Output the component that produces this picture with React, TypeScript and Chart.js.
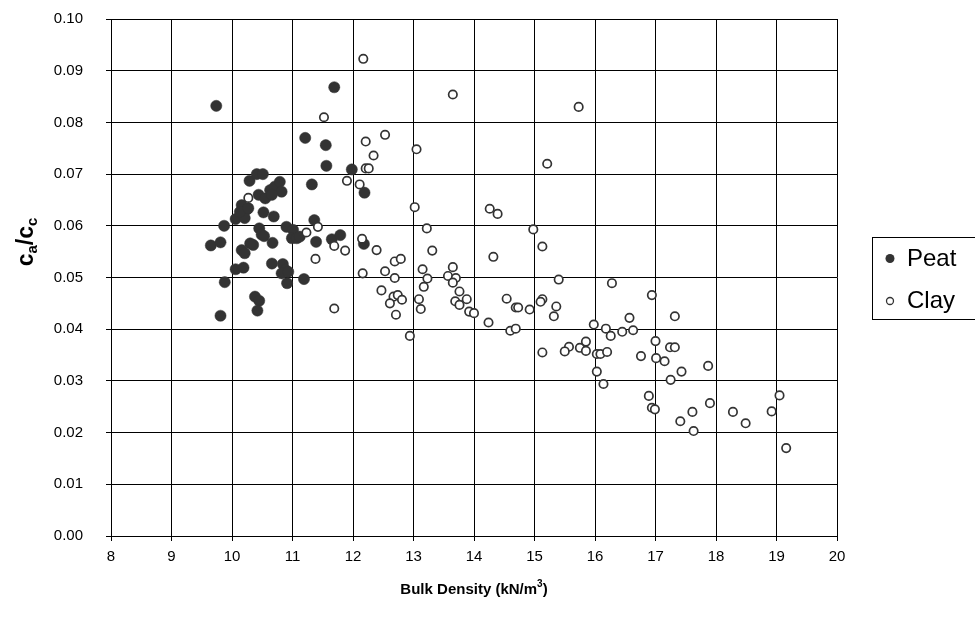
import React, { useEffect, useRef } from "react";
import { Chart, registerables } from "chart.js";

Chart.register(...registerables);

const peatX = [9.74, 11.69, 11.21, 11.55, 11.56, 11.98, 11.32, 12.19, 11.36, 11.39, 11.65, 11.79, 12.18, 11.19, 9.65, 9.81, 9.87, 9.88, 9.81, 10.06, 10.06, 10.19, 10.16, 10.21, 10.35, 10.16, 10.24, 10.21, 10.13, 10.29, 10.41, 10.51, 10.44, 10.55, 10.52, 10.69, 10.63, 10.71, 10.79, 10.82, 10.66, 10.45, 10.49, 10.53, 10.67, 10.66, 10.84, 10.88, 10.82, 10.93, 10.91, 10.38, 10.45, 10.42, 10.90, 11.01, 10.99, 11.07, 11.12, 10.30, 10.27];
const peatY = [0.0832, 0.0868, 0.0770, 0.0756, 0.0716, 0.0709, 0.0680, 0.0664, 0.0611, 0.0569, 0.0574, 0.0582, 0.0565, 0.0497, 0.0562, 0.0568, 0.0600, 0.0491, 0.0426, 0.0613, 0.0516, 0.0519, 0.0553, 0.0547, 0.0563, 0.0640, 0.0631, 0.0615, 0.0627, 0.0687, 0.0700, 0.0700, 0.0660, 0.0653, 0.0626, 0.0618, 0.0669, 0.0676, 0.0685, 0.0666, 0.0660, 0.0595, 0.0583, 0.0580, 0.0567, 0.0527, 0.0526, 0.0515, 0.0508, 0.0511, 0.0489, 0.0463, 0.0455, 0.0436, 0.0598, 0.0592, 0.0576, 0.0576, 0.0579, 0.0566, 0.0634];

const clayX = [10.27, 11.23, 11.42, 11.38, 11.69, 11.87, 11.69, 11.90, 12.17, 11.52, 13.65, 15.73, 12.21, 12.53, 12.34, 13.05, 12.21, 12.26, 15.21, 12.11, 13.02, 14.26, 14.39, 13.22, 14.98, 12.15, 12.39, 13.31, 15.13, 14.32, 12.69, 12.79, 12.16, 12.53, 12.69, 13.15, 13.23, 13.65, 13.57, 13.70, 13.65, 15.40, 13.17, 12.47, 12.67, 12.74, 12.81, 12.61, 12.71, 13.09, 13.12, 13.76, 13.69, 13.76, 13.88, 13.92, 14.00, 14.24, 14.54, 14.69, 14.73, 14.60, 14.69, 14.92, 15.13, 15.10, 15.36, 15.32, 12.94, 15.98, 16.28, 16.94, 17.32, 16.18, 16.26, 16.45, 16.57, 16.63, 15.57, 15.50, 15.75, 15.85, 15.85, 16.03, 16.09, 16.20, 16.03, 16.14, 16.76, 17.00, 17.01, 17.15, 17.24, 17.32, 17.25, 17.43, 17.87, 16.89, 16.94, 16.99, 17.41, 17.61, 17.63, 17.90, 18.28, 18.49, 18.92, 19.05, 19.16, 15.13];
const clayY = [0.0654, 0.0587, 0.0598, 0.0536, 0.0561, 0.0552, 0.0440, 0.0687, 0.0923, 0.0810, 0.0854, 0.0830, 0.0763, 0.0776, 0.0736, 0.0748, 0.0711, 0.0711, 0.0720, 0.0680, 0.0636, 0.0633, 0.0623, 0.0595, 0.0593, 0.0575, 0.0553, 0.0552, 0.0560, 0.0540, 0.0531, 0.0536, 0.0508, 0.0512, 0.0499, 0.0516, 0.0498, 0.0520, 0.0503, 0.0499, 0.0490, 0.0496, 0.0482, 0.0475, 0.0463, 0.0466, 0.0457, 0.0450, 0.0428, 0.0458, 0.0439, 0.0473, 0.0454, 0.0447, 0.0458, 0.0434, 0.0431, 0.0413, 0.0459, 0.0442, 0.0442, 0.0397, 0.0401, 0.0438, 0.0458, 0.0453, 0.0444, 0.0425, 0.0387, 0.0409, 0.0489, 0.0466, 0.0425, 0.0401, 0.0387, 0.0395, 0.0422, 0.0398, 0.0366, 0.0357, 0.0364, 0.0358, 0.0376, 0.0352, 0.0352, 0.0356, 0.0318, 0.0294, 0.0348, 0.0377, 0.0344, 0.0338, 0.0365, 0.0365, 0.0302, 0.0318, 0.0329, 0.0271, 0.0248, 0.0245, 0.0222, 0.0240, 0.0203, 0.0257, 0.0240, 0.0218, 0.0241, 0.0272, 0.0170, 0.0355];

const xTicks = [8, 9, 10, 11, 12, 13, 14, 15, 16, 17, 18, 19, 20];
const yTicks = [0, 0.01, 0.02, 0.03, 0.04, 0.05, 0.06, 0.07, 0.08, 0.09, 0.1];
const seriesNames = ["Peat", "Clay"];

const FONT = '"Liberation Sans", Arial, sans-serif';
const INK = "#333333";

export default function App() {
  const ref = useRef<HTMLCanvasElement>(null);

  useEffect(() => {
    if (!ref.current) return;

    const extras = {
      id: "extras",
      afterDraw(chart: any) {
        const ctx = chart.ctx as CanvasRenderingContext2D;
        const area = chart.chartArea;
        ctx.save();
        ctx.fillStyle = "#000";
        ctx.textBaseline = "middle";

        // X axis title with superscript
        const big = "bold 15px " + FONT;
        const sup = "bold 10px " + FONT;
        const p1 = "Bulk Density (kN/m";
        const p2 = "3";
        const p3 = ")";
        ctx.font = big;
        const w1 = ctx.measureText(p1).width;
        const w3 = ctx.measureText(p3).width;
        ctx.font = sup;
        const w2 = ctx.measureText(p2).width;
        const cx = (area.left + area.right) / 2;
        let x = cx - (w1 + w2 + w3) / 2;
        const ty = 590;
        ctx.textAlign = "left";
        ctx.font = big;
        ctx.fillText(p1, x, ty);
        x += w1;
        ctx.font = sup;
        ctx.fillText(p2, x, ty - 6);
        x += w2;
        ctx.font = big;
        ctx.fillText(p3, x, ty);

        // Y axis title with subscripts
        ctx.save();
        ctx.translate(27, 242);
        ctx.rotate(-Math.PI / 2);
        const main = "bold 23px " + FONT;
        const sub = "bold 15px " + FONT;
        const parts: [string, string, number][] = [
          ["c", main, 0],
          ["a", sub, 6],
          ["/", main, 0],
          ["c", main, 0],
          ["c", sub, 6],
        ];
        let total = 0;
        for (const [t, f] of parts) {
          ctx.font = f;
          total += ctx.measureText(t).width;
        }
        let px = -total / 2;
        for (const [t, f, dy] of parts) {
          ctx.font = f;
          ctx.fillText(t, px, dy);
          px += ctx.measureText(t).width;
        }
        ctx.restore();

        // Legend
        ctx.strokeStyle = "#000";
        ctx.lineWidth = 1;
        ctx.strokeRect(872.5, 237.5, 140, 82);
        ctx.font = "24px " + FONT;
        ctx.textAlign = "left";
        ctx.fillStyle = INK;
        ctx.beginPath();
        ctx.arc(890, 258.5, 4.5, 0, Math.PI * 2);
        ctx.fill();
        ctx.beginPath();
        ctx.arc(890, 301, 3.5, 0, Math.PI * 2);
        ctx.fillStyle = "#fff";
        ctx.fill();
        ctx.lineWidth = 1.3;
        ctx.strokeStyle = INK;
        ctx.stroke();
        ctx.fillStyle = "#000";
        ctx.fillText(seriesNames[0], 907, 259);
        ctx.fillText(seriesNames[1], 907, 301);
        ctx.restore();
      },
    };

    const chart = new Chart(ref.current, {
      type: "scatter",
      data: {
        datasets: [
          {
            label: seriesNames[0],
            data: peatX.map((x, i) => ({ x, y: peatY[i] })),
            backgroundColor: INK,
            borderColor: INK,
            pointRadius: 5.6,
            borderWidth: 0.5,
            order: 2,
          },
          {
            label: seriesNames[1],
            data: clayX.map((x, i) => ({ x, y: clayY[i] })),
            backgroundColor: "#ffffff",
            borderColor: INK,
            pointRadius: 4.2,
            borderWidth: 1.7,
            order: 1,
          },
        ],
      },
      options: {
        responsive: false,
        animation: false,
        devicePixelRatio: 1,
        layout: { padding: { left: 0, top: 19, right: 138, bottom: 0 } },
        plugins: { legend: { display: false }, tooltip: { enabled: false } },
        scales: {
          x: {
            type: "linear",
            min: 8,
            max: 20,
            afterFit(s: any) {
              s.height = 87;
            },
            afterBuildTicks(s: any) {
              s.ticks = xTicks.map((v) => ({ value: v }));
            },
            ticks: {
              color: "#000",
              font: { family: FONT, size: 15 },
              padding: 7,
              maxRotation: 0,
              callback: (v: any) => String(v),
            },
            grid: { color: "#000", lineWidth: 1, tickLength: 5, drawTicks: true },
            border: { color: "#000", width: 1 },
          },
          y: {
            type: "linear",
            min: 0,
            max: 0.1,
            afterFit(s: any) {
              s.width = 111;
              s.paddingTop = 8;
              s.paddingBottom = 8;
            },
            afterBuildTicks(s: any) {
              s.ticks = yTicks.map((v) => ({ value: v }));
            },
            ticks: {
              color: "#000",
              font: { family: FONT, size: 15 },
              padding: 23,
              callback: (v: any) => Number(v).toFixed(2),
            },
            grid: { color: "#000", lineWidth: 1, tickLength: 5, drawTicks: true },
            border: { color: "#000", width: 1 },
          },
        },
      },
      plugins: [extras],
    });

    return () => chart.destroy();
  }, []);

  return (
    <div style={{ position: "absolute", left: 0, top: 0, width: 975, height: 623, background: "#fff" }}>
      <canvas ref={ref} width={975} height={623} style={{ display: "block" }} />
    </div>
  );
}
